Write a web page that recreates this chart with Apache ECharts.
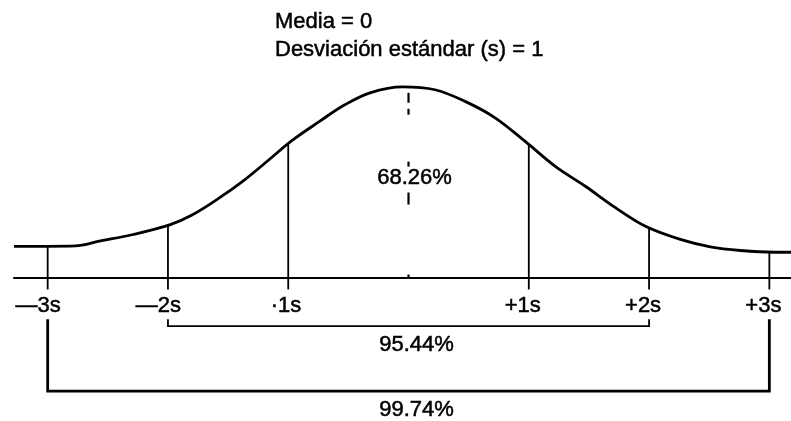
<!DOCTYPE html>
<html>
<head>
<meta charset="utf-8">
<script src="https://cdn.jsdelivr.net/npm/echarts@6/dist/echarts.min.js"></script>
<style>
  html, body { margin: 0; padding: 0; background: #fff; }
  #chart { width: 791px; height: 421px; }
</style>
</head>
<body>
<div id="chart"></div>
<script>
// Bell curve, heights relative to the peak (peak = 1), x in standard deviations
const curveS = [-3.28, -3.01, -2.77, -2.57, -2.29, -1.98, -1.80, -1.57, -1.36, -1.16, -0.97, -0.74, -0.53, -0.32, -0.05,
                0.22, 0.47, 0.72, 0.97, 1.22, 1.47, 1.72, 1.97, 2.26, 2.51, 2.76, 3.04, 3.18];
const curveH = [0.166, 0.166, 0.168, 0.193, 0.228, 0.280, 0.330, 0.421, 0.516, 0.620, 0.720, 0.821, 0.908, 0.971, 1.002,
                0.987, 0.926, 0.840, 0.716, 0.585, 0.481, 0.369, 0.271, 0.202, 0.163, 0.144, 0.135, 0.135];

// Standard deviation marks and the curve height where each one meets it
const sigmaMarks = [-3, -2, -1, 1, 2, 3];
const sigmaTops = [0.166, 0.278, 0.704, 0.700, 0.264, 0.136];
const sigmaLabels = ['—3s', '—2s', '·1s', '+1s', '+2s', '+3s'];
const sigmaLabelLevel = -0.146;
const tickDepth = -0.06;

// Broken line at the mean: [from, to] segments
const meanDashes = [[0.971, 0.919], [0.887, 0.856], [0.610, 0.584], [0.448, 0.385], [0.018, 0]];

// Central area label
const centerLabel = '68.26%';
const centerLabelLevel = 0.526;

// Range brackets under the axis
const rangeFrom = [-2, -3];
const rangeTo = [2, 3];
const rangeLabels = ['95.44%', '99.74%'];
const rangeTopLevel = [-0.217, -0.217];
const rangeLevel = [-0.252, -0.593];
const rangeLabelLevel = [-0.352, -0.694];
const rangeWidth = [1.8, 2.8];

const titleLines = ['Media = 0', 'Desviación estándar (s) = 1'];

const FONT = 'Liberation Sans, Arial, sans-serif';
const FONT_SIZE = 22;
const chart = echarts.init(document.getElementById('chart'), null, { renderer: 'canvas' });

function textEl(x, y, text, align) {
  return {
    type: 'text', x: x, y: y, z2: 10,
    style: {
      text: text, fill: '#000', fontSize: FONT_SIZE, fontFamily: FONT,
      align: align, verticalAlign: 'middle', stroke: '#000', lineWidth: 0.5
    }
  };
}

chart.setOption({
  animation: false,
  backgroundColor: '#fff',
  title: {
    text: titleLines.join('\n'),
    left: 275, top: 8, padding: 0,
    textStyle: {
      color: '#000', fontSize: FONT_SIZE, fontWeight: 'normal', fontFamily: FONT, lineHeight: 28,
      textBorderColor: '#000', textBorderWidth: 0.5
    }
  },
  grid: { left: 14, right: 0, top: 11, bottom: -1 },
  xAxis: {
    type: 'value', min: -3.28, max: 3.18,
    axisLine: { onZero: true, lineStyle: { color: '#000', width: 2.2 } },
    axisTick: { show: false }, axisLabel: { show: false }, splitLine: { show: false }
  },
  yAxis: { type: 'value', min: -0.75, max: 1.4, show: false },
  series: [
    {
      name: 'curva', type: 'line', smooth: 0.35, symbol: 'none',
      lineStyle: { color: '#000', width: 2.8 },
      data: curveS.map((s, i) => [s, curveH[i]])
    },
    {
      name: 'desviaciones', type: 'custom',
      data: sigmaMarks.map((s, i) => [s, sigmaTops[i], i]),
      renderItem: function (params, api) {
        const s = api.value(0);
        const top = api.coord([s, api.value(1)]);
        const bot = api.coord([s, tickDepth]);
        const lab = api.coord([s, sigmaLabelLevel]);
        const i = api.value(2);
        const neg = s < 0;
        return {
          type: 'group',
          children: [
            { type: 'line', shape: { x1: top[0], y1: top[1], x2: bot[0], y2: bot[1] },
              style: { stroke: '#000', lineWidth: 1.8 } },
            textEl(neg ? lab[0] + 13 : lab[0] - 6, lab[1], sigmaLabels[i], neg ? 'right' : 'center')
          ]
        };
      }
    },
    {
      name: 'media', type: 'custom',
      data: meanDashes.map(d => [0, d[0], d[1]]),
      renderItem: function (params, api) {
        const a = api.coord([api.value(0), api.value(1)]);
        const b = api.coord([api.value(0), api.value(2)]);
        return { type: 'line', shape: { x1: a[0], y1: a[1], x2: b[0], y2: b[1] },
                 style: { stroke: '#000', lineWidth: 2.2 } };
      }
    },
    {
      name: 'etiqueta central', type: 'custom',
      data: [[0, centerLabelLevel]],
      renderItem: function (params, api) {
        const p = api.coord([api.value(0), api.value(1)]);
        return textEl(p[0] + 6, p[1], centerLabel, 'center');
      }
    },
    {
      name: 'rangos', type: 'custom',
      data: rangeFrom.map((f, i) => [f, rangeTo[i], rangeTopLevel[i], rangeLevel[i], rangeLabelLevel[i], i]),
      renderItem: function (params, api) {
        const f = api.value(0), t = api.value(1);
        const i = api.value(5);
        const p1 = api.coord([f, api.value(2)]);
        const p2 = api.coord([f, api.value(3)]);
        const p3 = api.coord([t, api.value(3)]);
        const p4 = api.coord([t, api.value(2)]);
        const lab = api.coord([(f + t) / 2, api.value(4)]);
        return {
          type: 'group',
          children: [
            { type: 'polyline', shape: { points: [p1, p2, p3, p4] },
              style: { stroke: '#000', fill: null, lineWidth: rangeWidth[i] } },
            textEl(lab[0] + 8, lab[1], rangeLabels[i], 'center')
          ]
        };
      }
    }
  ]
});
</script>
</body>
</html>
